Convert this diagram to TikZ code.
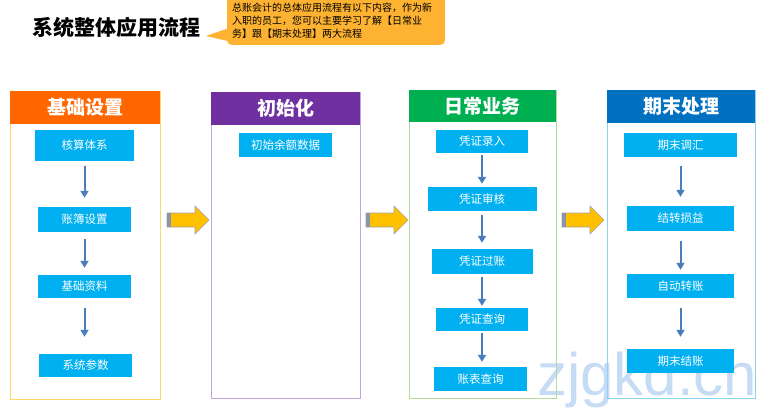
\documentclass[tikz,border=0pt]{standalone}
\usepackage{fontspec}
\setmainfont{Noto Sans CJK SC}
\newfontfamily\cjk{Noto Sans CJK SC}
\newfontfamily\wmfont{Liberation Sans}
\usetikzlibrary{arrows.meta}
\definecolor{orangeh}{HTML}{FF6600}
\definecolor{purpleh}{HTML}{7030A0}
\definecolor{greenh}{HTML}{00B050}
\definecolor{blueh}{HTML}{0070C0}
\definecolor{bordA}{HTML}{FFD966}
\definecolor{bordB}{HTML}{C0A9DA}
\definecolor{bordC}{HTML}{B5DB9A}
\definecolor{bordD}{HTML}{8ED3F5}
\definecolor{itemc}{HTML}{00B0F0}
\definecolor{flowc}{HTML}{4A7EBB}
\definecolor{yellowA}{HTML}{FFC000}
\definecolor{stripec}{HTML}{8A96A8}
\definecolor{calloutc}{HTML}{FDB232}
\definecolor{wmc}{HTML}{C6DCF4}
\begin{document}
\begin{tikzpicture}[x=1pt,y=-1pt,
  colbox/.style={draw, line width=1pt, minimum height=308pt, inner sep=0pt},
  hdr/.style={text=white, font=\cjk\bfseries\fontsize{19}{19}\selectfont, minimum height=33pt, inner sep=0pt},
  item/.style={fill=itemc, text=white, font=\cjk\fontsize{11.5}{12}\selectfont, inner sep=0pt},
  flow/.style={-{Triangle[length=7pt,width=8pt]}, line width=2pt, draw=flowc},
  bigarrow/.pic={
    \fill[yellowA, draw=gray!70, line width=0.6pt] (0,-7) -- (28,-7) -- (28,-14) -- (42,0) -- (28,14) -- (28,7) -- (0,7) -- cycle;
    \fill[stripec] (0.3,-6.7) rectangle (3.5,6.7);
  }]
\useasboundingbox (0,0) rectangle (760,412);
\fill[white] (0,0) rectangle (760,412);

% watermark (behind everything)
\node[anchor=base west, text=wmc, font=\wmfont\fontsize{60}{60}\selectfont, inner sep=0pt] (wm) at (537,395) {zjgkd.cn};

% title and callout
\node[anchor=west, font=\cjk\bfseries\fontsize{21}{21}\selectfont, inner sep=0pt] (title) at (32,27) {系统整体应用流程};
\fill[calloutc, rounded corners=5pt] (227,-6) rectangle (445,45);
\fill[calloutc] (232,27) -- (206,36) -- (232,42) -- cycle;
\node[anchor=north west, align=left, font=\cjk\fontsize{10}{13}\selectfont, inner sep=0pt] (note) at (232,3)
  {总账会计的总体应用流程有以下内容，作为新\\入职的员工，您可以主要学习了解【日常业\\务】跟【期末处理】两大流程};

% column 1
\node[colbox, draw=bordA, minimum width=150pt] (col1) at (85,245) {};
\node[hdr, fill=orangeh, minimum width=150pt] (h1) at (85,107.5) {基础设置};
\node[item, minimum width=99pt, minimum height=31pt] (a1) at (84.5,145.5) {核算体系};
\node[item, minimum width=93pt, minimum height=25pt] (a2) at (84.5,219.5) {账簿设置};
\node[item, minimum width=93pt, minimum height=23pt] (a3) at (84.5,286.5) {基础资料};
\node[item, minimum width=93pt, minimum height=23pt] (a4) at (85.5,365.5) {系统参数};
\draw[flow, shorten <=5pt, shorten >=9pt] (a1.south) -- (a1.south |- a2.north);
\draw[flow, shorten <=7pt, shorten >=7pt] (a2.south) -- (a2.south |- a3.north);
\draw[flow, shorten <=10pt, shorten >=17pt] (a3.south) -- (a3.south |- a4.north);

% column 2
\node[colbox, draw=bordB, minimum width=149pt, minimum height=306pt] (col2) at (285.5,245) {};
\node[hdr, fill=purpleh, minimum width=149pt] (h2) at (285.5,108.5) {初始化};
\node[item, minimum width=93pt, minimum height=24pt] (b1) at (285.5,145) {初始余额数据};

% column 3
\node[colbox, draw=bordC, minimum width=147pt] (col3) at (482.5,244) {};
\node[hdr, fill=greenh, minimum width=147pt, minimum height=32pt] (h3) at (482.5,106) {日常业务};
\node[item, minimum width=92pt, minimum height=23pt] (c1) at (482,141.5) {凭证录入};
\node[item, minimum width=109pt, minimum height=24pt] (c2) at (482,199) {凭证审核};
\node[item, minimum width=101pt, minimum height=25pt] (c3) at (482,261.5) {凭证过账};
\node[item, minimum width=92pt, minimum height=23pt] (c4) at (482,319.5) {凭证查询};
\node[item, minimum width=93pt, minimum height=24pt] (c5) at (480.5,379) {账表查询};
\draw[flow, shorten <=2pt, shorten >=3pt] (c1.south) -- (c1.south |- c2.north);
\draw[flow, shorten <=4pt, shorten >=6pt] (c2.south) -- (c2.south |- c3.north);
\draw[flow, shorten <=3pt, shorten >=2pt] (c3.south) -- (c3.south |- c4.north);
\draw[flow, shorten <=2pt, shorten >=5pt] (c4.south) -- (c4.south |- c5.north);

% column 4
\node[colbox, draw=bordD, minimum width=148pt] (col4) at (681,244) {};
\node[hdr, fill=blueh, minimum width=148pt] (h4) at (681,106.5) {期末处理};
\node[item, minimum width=113pt, minimum height=24pt] (d1) at (680.5,145) {期末调汇};
\node[item, minimum width=107pt, minimum height=25pt] (d2) at (680.5,218.5) {结转损益};
\node[item, minimum width=107pt, minimum height=24pt] (d3) at (680.5,286) {自动转账};
\node[item, minimum width=107pt, minimum height=24pt] (d4) at (680.5,361) {期末结账};
\draw[flow, shorten <=9pt, shorten >=9pt] (d1.south) -- (d1.south |- d2.north);
\draw[flow, shorten <=10pt, shorten >=4pt] (d2.south) -- (d2.south |- d3.north);
\draw[flow, shorten <=10pt, shorten >=12pt] (d3.south) -- (d3.south |- d4.north);

% big arrows between stages
\pic at (167,220) {bigarrow};
\pic at (366,220) {bigarrow};
\pic at (562,220) {bigarrow};
\end{tikzpicture}
\end{document}
